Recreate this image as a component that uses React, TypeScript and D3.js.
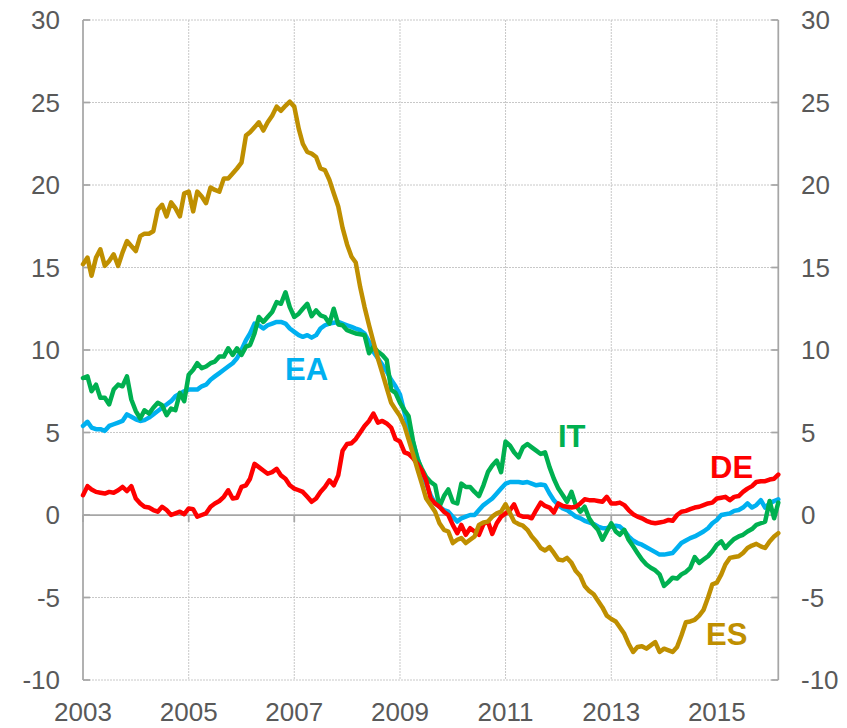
import React from "react";
import * as d3 from "d3";

const startYear = 2003;
const ES = [
  15.2, 15.6, 14.5, 15.6, 16.1, 15.1, 15.4, 15.8, 15.1, 15.9,
  16.6, 16.3, 16.0, 16.9, 17.05, 17.05, 17.2, 18.5, 18.8, 18.1,
  18.95, 18.6, 18.1, 19.5, 19.6, 18.4, 19.6, 19.3, 18.9, 19.85,
  19.7, 19.6, 20.4, 20.4, 20.7, 21.0, 21.35, 23.0, 23.2, 23.5,
  23.8, 23.3, 23.8, 24.2, 24.75, 24.5, 24.8, 25.05, 24.75, 23.4,
  22.5, 22.0, 21.9, 21.7, 21.0, 20.9, 20.3, 19.5, 18.7, 17.4,
  16.4, 15.65, 15.3, 13.8, 12.6, 11.5, 10.5, 9.5, 8.6, 7.7,
  6.8, 6.4, 6.0, 5.4, 4.6, 3.7, 2.8, 1.9, 1.0, 0.6,
  0.2, -0.5, -0.9, -1.0, -1.7, -1.5, -1.4, -1.7, -1.5, -1.3,
  -0.6, -0.45, -0.4, -0.1, 0.1, 0.2, 0.65, 0.1, -0.4, -0.55,
  -0.65, -0.9, -1.3, -1.6, -2.0, -2.15, -1.95, -2.3, -2.7, -2.75,
  -2.6, -2.9, -3.4, -3.7, -4.3, -4.6, -4.8, -5.2, -5.6, -6.1,
  -6.3, -6.45, -6.8, -7.2, -7.8, -8.3, -8.0, -7.95, -8.1, -7.9,
  -7.7, -8.3, -8.1, -8.2, -8.3, -8.0, -7.3, -6.5, -6.45, -6.35,
  -6.1, -5.75, -5.0, -4.2, -4.1, -3.6, -3.0, -2.6, -2.55, -2.5,
  -2.3, -2.0, -1.85, -1.75, -1.9, -2.0, -1.6, -1.3, -1.1,
];
const EA = [
  5.4, 5.65, 5.3, 5.2, 5.2, 5.1, 5.4, 5.5, 5.6, 5.7,
  6.1, 5.95, 5.8, 5.7, 5.75, 5.9, 6.1, 6.3, 6.5, 6.7,
  6.9, 7.2, 7.35, 7.5, 7.6, 7.6, 7.6, 7.8, 7.9, 8.2,
  8.4, 8.6, 8.8, 9.0, 9.2, 9.5, 10.0, 10.6, 11.0, 11.6,
  11.5, 11.3, 11.5, 11.6, 11.7, 11.7, 11.6, 11.3, 11.1, 10.9,
  10.8, 10.9, 10.75, 10.9, 11.3, 11.5, 11.6, 11.65, 11.7, 11.6,
  11.5, 11.4, 11.3, 11.2, 11.0, 10.5, 9.9, 9.5, 9.1, 8.7,
  8.2, 7.8, 7.3, 6.2, 5.3, 4.4, 3.5, 2.6, 1.9, 1.2,
  0.7, 0.5, 0.3, 0.2, -0.1, -0.4, -0.2, -0.1, 0.0, 0.0,
  0.3, 0.6, 0.8, 1.0, 1.3, 1.6, 1.9, 2.0, 2.0, 2.0,
  1.95, 2.0, 1.9, 1.8, 1.85, 1.8, 1.3, 0.9, 0.6, 0.4,
  0.3, 0.1, -0.1, -0.2, -0.35, -0.45, -0.55, -0.7, -0.8, -0.8,
  -0.7, -0.65, -0.7, -0.95, -1.3, -1.55, -1.7, -1.8, -1.95, -2.1,
  -2.25, -2.4, -2.4, -2.35, -2.3, -2.0, -1.7, -1.55, -1.4, -1.3,
  -1.15, -1.0, -0.8, -0.5, -0.3, 0.0, 0.05, 0.1, 0.25, 0.3,
  0.45, 0.7, 0.45, 0.6, 0.9, 0.45, 0.7, 0.85, 0.95,
];
const IT = [
  8.3, 8.4, 7.5, 7.9, 7.1, 7.1, 6.7, 7.6, 7.9, 7.8,
  8.4, 7.0, 6.3, 5.85, 6.35, 6.15, 6.5, 6.8, 6.65, 6.05,
  6.45, 6.35, 7.4, 6.9, 8.5, 8.8, 9.2, 8.9, 9.0, 9.2,
  9.3, 9.6, 9.6, 10.1, 9.7, 10.1, 9.7, 10.2, 10.3, 11.0,
  12.0, 11.7, 12.0, 12.3, 12.9, 12.8, 13.5, 12.6, 12.0, 12.2,
  12.5, 12.8, 12.05, 12.4, 12.1, 12.0, 11.6, 12.5, 11.55, 11.5,
  11.2, 11.1, 11.0, 10.95, 10.9, 9.8, 10.2, 9.9, 9.7, 9.4,
  7.6, 7.4, 6.8, 6.35, 6.0, 4.5, 3.4, 2.8, 2.3, 2.0,
  1.8, 0.5, 1.15, 1.55, 0.8, 0.7, 1.9, 1.7, 1.7, 1.4,
  1.15, 1.8, 2.6, 3.0, 3.3, 2.6, 4.45, 4.2, 3.8, 3.5,
  4.1, 4.3, 4.1, 3.9, 3.7, 3.8, 2.9, 2.2, 1.6, 1.2,
  0.8, 1.4, 0.6, 0.2, 0.5, -0.2, -0.6, -0.9, -1.5, -1.0,
  -0.5, -1.0, -1.2, -0.9, -1.5, -1.9, -2.3, -2.7, -3.0, -3.2,
  -3.35, -3.6, -4.3, -4.05, -3.8, -3.85, -3.6, -3.45, -3.2, -2.55,
  -2.9, -2.7, -2.5, -2.2, -1.8, -1.6, -2.0, -1.7, -1.45, -1.3,
  -1.2, -1.0, -0.85, -0.6, -0.5, -0.4, 0.85, -0.2, 0.75,
];
const DE = [
  1.2, 1.75, 1.55, 1.4, 1.35, 1.3, 1.4, 1.35, 1.5, 1.7,
  1.45, 1.75, 1.0, 0.7, 0.5, 0.45, 0.3, 0.2, 0.5, 0.3,
  0.0, 0.1, 0.2, 0.05, 0.4, 0.35, -0.1, 0.0, 0.1, 0.5,
  0.7, 0.85, 1.1, 1.5, 1.0, 1.05, 1.7, 1.8, 2.2, 3.1,
  2.9, 2.7, 2.5, 2.6, 2.8, 2.4, 2.2, 1.8, 1.6, 1.5,
  1.4, 1.1, 0.8, 1.0, 1.4, 1.7, 2.1, 1.8, 2.4, 3.9,
  4.3, 4.35, 4.6, 5.0, 5.4, 5.7, 6.15, 5.6, 5.7, 5.55,
  5.3, 4.6, 4.45, 3.8, 3.7, 3.45, 3.1, 2.7, 2.1, 1.0,
  0.7, 0.5, 0.2, 0.0, -0.6, -1.1, -0.6, -1.2, -0.8, -1.0,
  -1.2, -0.55, -0.4, -1.15, -0.5, -0.1, 0.1, 0.3, 0.65, 0.0,
  -0.1, -0.1, -0.2, 0.3, 0.75, 0.55, 0.45, 0.15, 0.7, 0.55,
  0.5, 0.45, 0.5, 0.7, 0.95, 0.9, 0.9, 0.85, 0.8, 1.1,
  0.7, 0.7, 0.75, 0.6, 0.3, 0.05, -0.1, -0.2, -0.35, -0.45,
  -0.5, -0.45, -0.4, -0.3, -0.35, 0.0, 0.2, 0.25, 0.35, 0.45,
  0.5, 0.6, 0.7, 0.75, 1.0, 1.05, 1.1, 0.9, 1.1, 1.15,
  1.4, 1.6, 1.75, 2.0, 2.05, 2.05, 2.15, 2.2, 2.45,
];
const yTicks = [-10, -5, 0, 5, 10, 15, 20, 25, 30];
const xTickYears = [2003, 2005, 2007, 2009, 2011, 2013, 2015];
const seriesNames = ["EA", "IT", "DE", "ES"];
const seriesColors: Record<string, string> = {
  EA: "#00B0F0",
  IT: "#00B050",
  DE: "#FF0000",
  ES: "#BF8F00",
};
const seriesData: Record<string, number[]> = { EA, IT, DE, ES };
const labelPos: Record<string, [number, number]> = {
  EA: [285, 380],
  IT: [558, 447],
  DE: [710, 478],
  ES: [706, 645],
};

const W = 847;
const H = 728;
const left = 83;
const right = 778.3;
const top = 20;
const bottom = 680;
const font = "'Liberation Sans', Arial, sans-serif";
const axisColor = "#A6A6A6";
const gridColor = "#C8C8C8";
const textColor = "#595959";

export default function App() {
  const dateAt = (i: number) => new Date(startYear, i, 1);
  const n = ES.length;
  const x = d3.scaleTime().domain([dateAt(0), dateAt(n - 1)]).range([left, right]);
  const y = d3.scaleLinear().domain([-10, 30]).range([bottom, top]);
  const line = d3
    .line<number>()
    .x((_, i) => x(dateAt(i)))
    .y((d) => y(d));

  return (
    <svg
      width={W}
      height={H}
      style={{ position: "absolute", left: 0, top: 0, background: "#fff" }}
    >
      {yTicks
        .filter((t) => t !== 0)
        .map((t) => (
          <line
            key={"hg" + t}
            x1={left}
            x2={right}
            y1={y(t)}
            y2={y(t)}
            stroke={gridColor}
            strokeWidth={1}
            strokeDasharray="2,1"
          />
        ))}
      {xTickYears.slice(1).map((yr) => (
        <line
          key={"vg" + yr}
          x1={x(new Date(yr, 0, 1))}
          x2={x(new Date(yr, 0, 1))}
          y1={top}
          y2={bottom}
          stroke={gridColor}
          strokeWidth={1}
          strokeDasharray="2,1"
        />
      ))}
      <line x1={left} x2={left} y1={top} y2={bottom} stroke={axisColor} strokeWidth={1.75} />
      <line x1={right} x2={right} y1={top} y2={bottom} stroke={axisColor} strokeWidth={1.75} />
      {yTicks.map((t) => (
        <g key={"yt" + t}>
          <line x1={left} x2={left + 7} y1={y(t)} y2={y(t)} stroke={axisColor} strokeWidth={1.75} />
          <line x1={right - 7} x2={right} y1={y(t)} y2={y(t)} stroke={axisColor} strokeWidth={1.75} />
          <text
            x={60}
            y={y(t)}
            textAnchor="end"
            dominantBaseline="central"
            fontFamily={font}
            fontSize={26}
            fill={textColor}
          >
            {t}
          </text>
          <text
            x={801}
            y={y(t)}
            textAnchor="start"
            dominantBaseline="central"
            fontFamily={font}
            fontSize={26}
            fill={textColor}
          >
            {t}
          </text>
        </g>
      ))}
      <line x1={left} x2={right} y1={y(0)} y2={y(0)} stroke={axisColor} strokeWidth={1.75} />
      {xTickYears.map((yr) => {
        const xp = x(new Date(yr, 0, 1));
        return (
          <g key={"xt" + yr}>
            <line x1={xp} x2={xp} y1={y(0)} y2={y(0) + 7} stroke={axisColor} strokeWidth={1.75} />
            <text
              x={xp}
              y={721}
              textAnchor="middle"
              fontFamily={font}
              fontSize={26}
              fill={textColor}
            >
              {yr}
            </text>
          </g>
        );
      })}
      {seriesNames.map((name) => (
        <path
          key={name}
          d={line(seriesData[name]) || ""}
          fill="none"
          stroke={seriesColors[name]}
          strokeWidth={4.5}
          strokeLinejoin="round"
          strokeLinecap="round"
        />
      ))}
      {seriesNames.map((name) => (
        <text
          key={"lbl" + name}
          x={labelPos[name][0]}
          y={labelPos[name][1]}
          fontFamily={font}
          fontWeight="bold"
          fontSize={31}
          fill={seriesColors[name]}
        >
          {name}
        </text>
      ))}
    </svg>
  );
}
